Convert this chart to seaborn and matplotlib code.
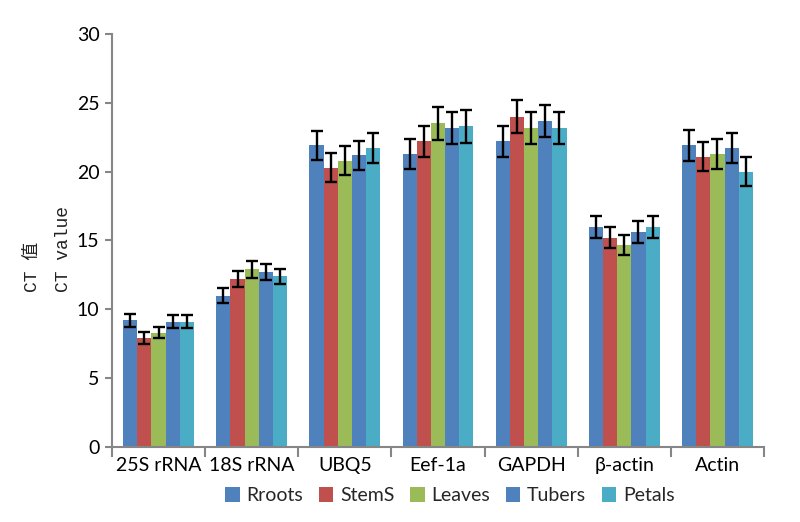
import numpy as np
import pandas as pd
import matplotlib
matplotlib.use("Agg")
import matplotlib.pyplot as plt
import seaborn as sns

categories = ["25S rRNA", "18S rRNA", "UBQ5", "Eef-1a", "GAPDH", "β-actin", "Actin"]
tissues = ["Rroots", "StemS", "Leaves", "Tubers", "Petals"]

rroots = [9.2, 11.0, 21.9, 21.3, 22.2, 16.0, 21.9]
stems = [7.9, 12.2, 20.3, 22.2, 24.0, 15.2, 21.1]
leaves = [8.3, 12.9, 20.8, 23.5, 23.2, 14.7, 21.3]
tubers = [9.1, 12.7, 21.2, 23.2, 23.7, 15.6, 21.7]
petals = [9.1, 12.4, 21.7, 23.3, 23.2, 16.0, 20.0]

err_rroots = [0.48, 0.57, 1.08, 1.10, 1.14, 0.80, 1.10]
err_stems = [0.42, 0.60, 1.04, 1.14, 1.20, 0.77, 1.07]
err_leaves = [0.41, 0.60, 1.03, 1.17, 1.16, 0.73, 1.10]
err_tubers = [0.47, 0.60, 1.06, 1.16, 1.17, 0.81, 1.10]
err_petals = [0.47, 0.55, 1.10, 1.20, 1.16, 0.80, 1.03]

colors = ["#4F81BD", "#C0504D", "#9BBB59", "#4F81BD", "#4BACC6"]

values = [rroots, stems, leaves, tubers, petals]
errors = [err_rroots, err_stems, err_leaves, err_tubers, err_petals]

rows = []
for t, vals in zip(tissues, values):
    for c, v in zip(categories, vals):
        rows.append({"gene": c, "tissue": t, "ct": v})
df = pd.DataFrame(rows)

sns.set_theme(style="white")
plt.rcParams["font.family"] = ["Lato", "DejaVu Sans"]

fig = plt.figure(figsize=(8, 5.22), dpi=100)
ax = fig.add_axes([0.14, 0.1437, 0.815, 0.7912])

sns.barplot(data=df, x="gene", y="ct", hue="tissue", order=categories,
            hue_order=tissues, palette=colors, width=0.76, saturation=1,
            errorbar=None, ax=ax, legend=True, linewidth=0)

for cont, errs in zip(ax.containers, errors):
    xs = [b.get_x() + b.get_width() / 2 for b in cont]
    hs = [b.get_height() for b in cont]
    ax.errorbar(xs, hs, yerr=errs, fmt="none", ecolor="black", elinewidth=1.7,
                capsize=4.3, capthick=1.7, zorder=5)

ax.set_ylim(0, 30)
ax.set_xlim(-0.5, len(categories) - 0.5)
ax.set_yticks(np.arange(0, 31, 5))
ax.set_xlabel("")
ax.set_ylabel("")

grey = "#868686"
for s in ["top", "right"]:
    ax.spines[s].set_visible(False)
for s in ["left", "bottom"]:
    ax.spines[s].set_color(grey)
    ax.spines[s].set_linewidth(1.5)

ax.tick_params(axis="y", which="major", direction="out", length=5, width=1.5,
               color=grey, labelsize=14, left=True, pad=4)
ax.tick_params(axis="x", which="major", length=0, labelsize=14, pad=7)
ax.set_xticks(np.arange(-0.5, len(categories)), minor=True)
ax.tick_params(axis="x", which="minor", direction="out", length=7, width=1.5,
               color=grey, bottom=True)
for lab in ax.get_xticklabels() + ax.get_yticklabels():
    lab.set_color("black")

ylab_family = ["Liberation Mono", "Noto Sans CJK SC"]
fig.text(0.041, 0.4406, "CT 值", rotation=90, rotation_mode="anchor",
         ha="left", va="center", fontsize=13, family=ylab_family, color="#222222")
fig.text(0.079, 0.4406, "CT value", rotation=90, rotation_mode="anchor",
         ha="left", va="center", fontsize=13, family=ylab_family, color="#222222")

leg = ax.legend(loc="center", ncol=5, frameon=False,
                fontsize=14, handlelength=0.75, handleheight=0.75, handletextpad=0.35,
                columnspacing=0.8)
leg.set_bbox_to_anchor((0.5625, 0.05), transform=fig.transFigure)

fig.savefig("out.png", dpi=100)
